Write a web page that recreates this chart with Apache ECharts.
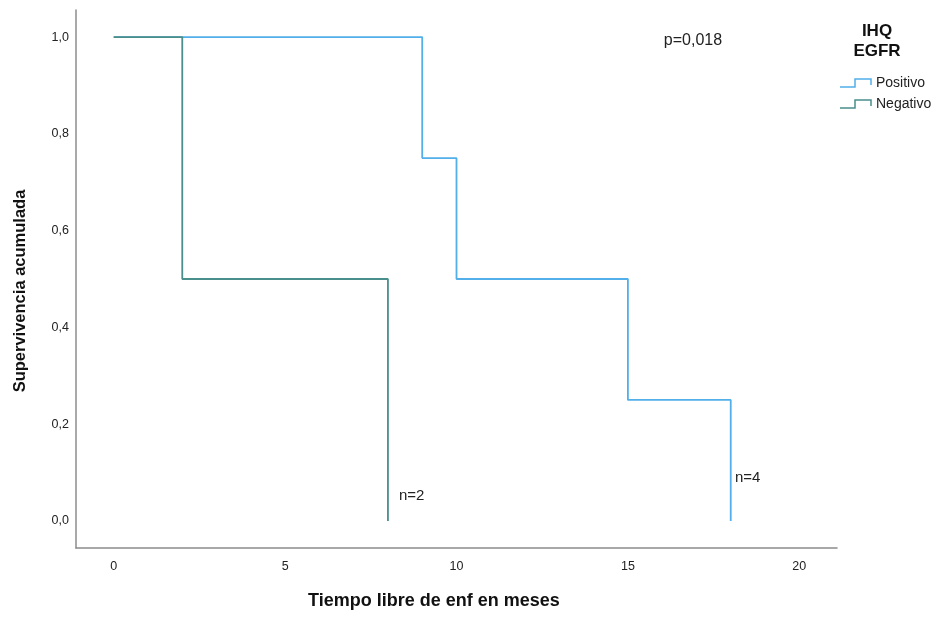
<!DOCTYPE html>
<html>
<head>
<meta charset="utf-8">
<script src="https://cdn.jsdelivr.net/npm/echarts@6/dist/echarts.min.js"></script>
<style>
html,body{margin:0;padding:0;background:#fff;}
#chart{width:942px;height:617px;}
</style>
</head>
<body>
<div id="chart"></div>
<script>
// Kaplan-Meier steps: [month, cumulative survival]
const positivo = [[0, 1.0], [9, 0.75], [10, 0.5], [15, 0.25], [18, 0.0]];
const negativo = [[0, 1.0], [2, 0.5], [8, 0.0]];
const xTicks = [0, 5, 10, 15, 20];
const yTicks = [0, 0.2, 0.4, 0.6, 0.8, 1.0];
const seriesNames = ['Positivo', 'Negativo'];
const colors = ['#52afe9', '#4a8f8c'];

const FONT = 'Liberation Sans, Arial, sans-serif';
const chart = echarts.init(document.getElementById('chart'), null, {renderer: 'canvas'});

function legendStep(x, y, color) {
  return {
    type: 'polyline',
    shape: {points: [[x, y + 4], [x + 15, y + 4], [x + 15, y - 4], [x + 31, y - 4], [x + 31, y + 2]]},
    style: {stroke: color, lineWidth: 1.5, fill: null}
  };
}

chart.setOption({
  backgroundColor: '#fff',
  animation: false,
  textStyle: {fontFamily: FONT},
  grid: {left: 76, right: 105, top: 10, bottom: 69, containLabel: false},
  xAxis: {
    type: 'value', min: -1.1, max: 21.1,
    splitLine: {show: false},
    axisLine: {show: true, onZero: false, lineStyle: {color: '#8c8c8c', width: 1.5}},
    axisTick: {show: false},
    axisLabel: {customValues: xTicks, color: '#222', fontSize: 12.5, margin: 12, fontFamily: FONT}
  },
  yAxis: {
    type: 'value', min: -0.056, max: 1.056,
    splitLine: {show: false},
    axisLine: {show: true, onZero: false, lineStyle: {color: '#8c8c8c', width: 1.5}},
    axisTick: {show: false},
    axisLabel: {
      customValues: yTicks, color: '#222', fontSize: 12.5, margin: 7, fontFamily: FONT,
      formatter: v => v.toFixed(1).replace('.', ',')
    }
  },
  series: [
    {name: seriesNames[0], type: 'line', step: 'end', data: positivo, showSymbol: false,
     lineStyle: {color: colors[0], width: 1.8}, itemStyle: {color: colors[0]}, z: 2},
    {name: seriesNames[1], type: 'line', step: 'end', data: negativo, showSymbol: false,
     lineStyle: {color: colors[1], width: 1.8}, itemStyle: {color: colors[1]}, z: 3}
  ],
  graphic: [
    {type: 'text', left: 308, top: 592,
     style: {text: 'Tiempo libre de enf en meses', font: 'bold 18px ' + FONT, fill: '#111'}},
    {type: 'text', x: 20, y: 291, rotation: Math.PI / 2,
     style: {text: 'Supervivencia acumulada', font: 'bold 16.5px ' + FONT, fill: '#111',
             align: 'center', verticalAlign: 'middle'}},
    {type: 'text', x: 693, y: 41,
     style: {text: 'p=0,018', font: '16px ' + FONT, fill: '#222', align: 'center', verticalAlign: 'middle'}},
    {type: 'text', x: 399, y: 496,
     style: {text: 'n=2', font: '15px ' + FONT, fill: '#222', verticalAlign: 'middle'}},
    {type: 'text', x: 735, y: 478,
     style: {text: 'n=4', font: '15px ' + FONT, fill: '#222', verticalAlign: 'middle'}},
    {type: 'text', x: 877, y: 31,
     style: {text: 'IHQ', font: 'bold 17px ' + FONT, fill: '#111', align: 'center', verticalAlign: 'middle'}},
    {type: 'text', x: 877, y: 51,
     style: {text: 'EGFR', font: 'bold 17px ' + FONT, fill: '#111', align: 'center', verticalAlign: 'middle'}},
    legendStep(840, 83, colors[0]),
    {type: 'text', x: 876, y: 83,
     style: {text: seriesNames[0], font: '14px ' + FONT, fill: '#222', verticalAlign: 'middle'}},
    legendStep(840, 104, colors[1]),
    {type: 'text', x: 876, y: 104,
     style: {text: seriesNames[1], font: '14px ' + FONT, fill: '#222', verticalAlign: 'middle'}}
  ]
});
</script>
</body>
</html>
